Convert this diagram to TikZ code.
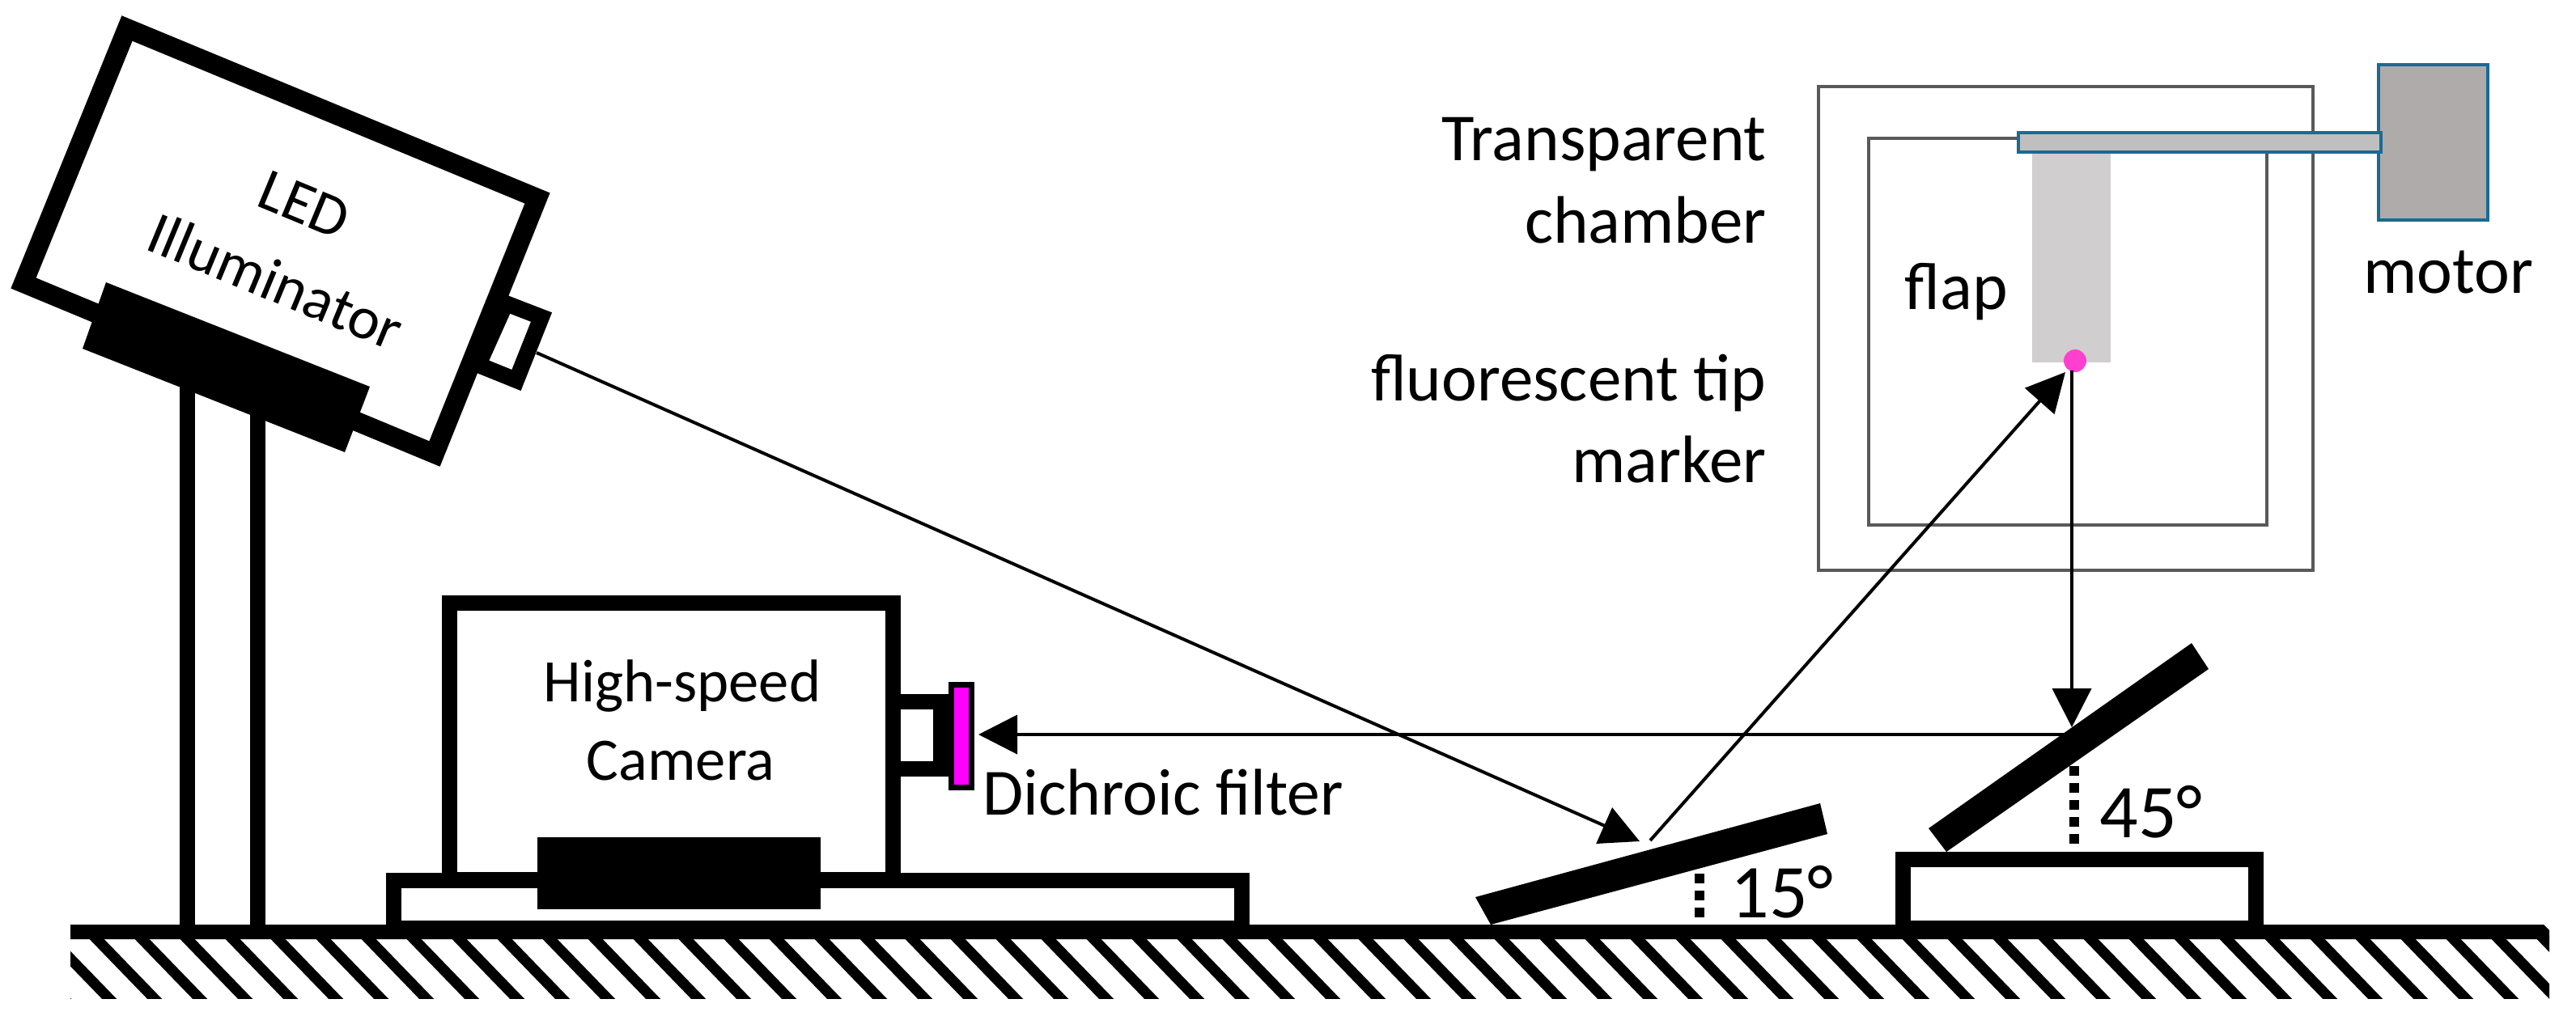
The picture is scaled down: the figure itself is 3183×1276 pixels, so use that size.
\documentclass[tikz,border=0pt]{standalone}
\usepackage{fontspec}
\setmainfont{Carlito}
\usetikzlibrary{arrows.meta}
\definecolor{edgeblue}{HTML}{1A6A94}
\definecolor{motorgrey}{HTML}{AFABAB}
\definecolor{rodgrey}{HTML}{BFBFBF}
\definecolor{flapgrey}{HTML}{D0CECE}
\definecolor{tipmagenta}{HTML}{FF40CF}
\definecolor{filtermagenta}{HTML}{FF00FF}
\definecolor{chambergrey}{HTML}{595959}
\tikzset{
 thick box/.style={draw=black,line width=9.5pt,miter limit=10,fill=white},
 solid black/.style={fill=black,draw=none},
 chamber/.style={draw=chambergrey,line width=2pt},
 blue edge/.style={draw=edgeblue,line width=1.6pt},
 ray/.style={draw=black,line width=2pt,-{Triangle[length=24pt,width=24pt]}},
 label big/.style={font=\fontsize{41.5pt}{48pt}\selectfont,inner sep=0pt},
 label filter/.style={font=\fontsize{40.8pt}{48pt}\selectfont,inner sep=0pt},
 label mid/.style={font=\fontsize{37.3pt}{44pt}\selectfont,inner sep=0pt},
 label deg/.style={font=\fontsize{47pt}{54pt}\selectfont,inner sep=0pt},
 angle dash/.style={draw=black,line width=6pt,dash pattern=on 6pt off 4.5pt},
}
\begin{document}
\begin{tikzpicture}[x=0.5pt,y=-0.5pt]
\useasboundingbox (0,0) rectangle (3183,1276);
% ground hatch
\begin{scope}
\clip (87,1155) rectangle (3150,1234);
\foreach \i in {-1,...,56}{
 \draw[line width=6.5pt] ({133+56*\i-80},1150) -- ({133+56*\i+10},1243);
}
\end{scope}
\fill (87,1143) -- (3143,1143) -- (3150,1150) -- (3150,1161) -- (87,1161) -- cycle;
% illuminator
\draw[draw=black,line width=10pt,fill=white] (625,375) -- (669,392) -- (638,470) -- (591,451) -- cycle;
\draw[thick box,line width=12pt] (157,35) -- (664,245) -- (537,561) -- (29,350) -- cycle;
\draw[line width=9.5pt] (231,470) -- (231,1143);
\draw[line width=9.5pt] (318,505) -- (318,1143);
\fill[solid black] (131,349) -- (457,478) -- (426,559) -- (102,431) -- cycle;
% camera
\draw[thick box] (555,745) rectangle (1103,1087);
\draw[thick box] (486,1088) rectangle (1534,1147);
\fill[solid black] (664,1035) rectangle (1014,1124);
\draw[draw=black,line width=9.5pt,fill=white] (1103,867) rectangle (1162,950);
\draw[draw=black,line width=3.5pt,fill=filtermagenta] (1175,846) rectangle (1200,973);
% mirror left
\fill[solid black] (1823,1109) -- (2249,993) -- (2258,1031) -- (1842,1143) -- cycle;
% mirror right
\draw[thick box] (2351,1062) rectangle (2787,1147);
\fill[solid black] (2383,1024) -- (2708,795) -- (2729,827) -- (2405,1053) -- cycle;
% angle dashes
\draw[angle dash] (2100,1080) -- (2100,1143);
\draw[angle dash] (2563,947) -- (2563,1052);
% chamber
\draw[chamber] (2247,107) rectangle (2858,705);
\draw[chamber] (2309,171) rectangle (2801,649);
\fill[flapgrey] (2511,188) rectangle (2608,448);
\draw[blue edge,fill=motorgrey] (2939,80) rectangle (3074,272);
\draw[blue edge,fill=rodgrey] (2494,164) rectangle (2942,188);
\node[circle,inner sep=0pt,minimum size=14pt,fill=tipmagenta] (tip) at (2564,446) {};
% coordinates of rays
\coordinate (ledout) at (663,436);
\coordinate (mirrorA) at (2026,1040);
\coordinate (mirrorAout) at (2039,1039);
\coordinate (tipin) at (2552,460);
\coordinate (tipout) at (2560,458);
\coordinate (mirrorB) at (2560,899);
\coordinate (mirrorBout) at (2556,908);
\coordinate (filter) at (1209,908);
\draw[ray] (ledout) -- (mirrorA);
\draw[ray] (mirrorAout) -- (tipin);
\draw[ray] (tipout) -- (mirrorB);
\draw[ray] (mirrorBout) -- (filter);
% labels
\node[label mid,rotate=-22.5] (ledtext) at (376,253) {LED};
\node[label mid,rotate=-22.5] (illtext) at (341,347) {Illuminator};
\node[label mid] (hs) at (843,848) {High-speed};
\node[label mid] (cam) at (841,941) {Camera};
\node[label filter,anchor=west] (dich) at (1214,979) {Dichroic filter};
\node[label big,anchor=east] (tr) at (2183,179) {Transparent};
\node[label big,anchor=east] (ch) at (2183,272) {chamber};
\node[label big,anchor=east] (fl) at (2183,473) {fluorescent tip};
\node[label big,anchor=east] (mk) at (2183,568) {marker};
\node[label big] (flap) at (2417,361) {flap};
\node[label big] (motor) at (3025,337) {motor};
\node[label deg] (a15) at (2202,1103) {15°};
\node[label deg] (a45) at (2658,1004) {45°};
\end{tikzpicture}
\end{document}
